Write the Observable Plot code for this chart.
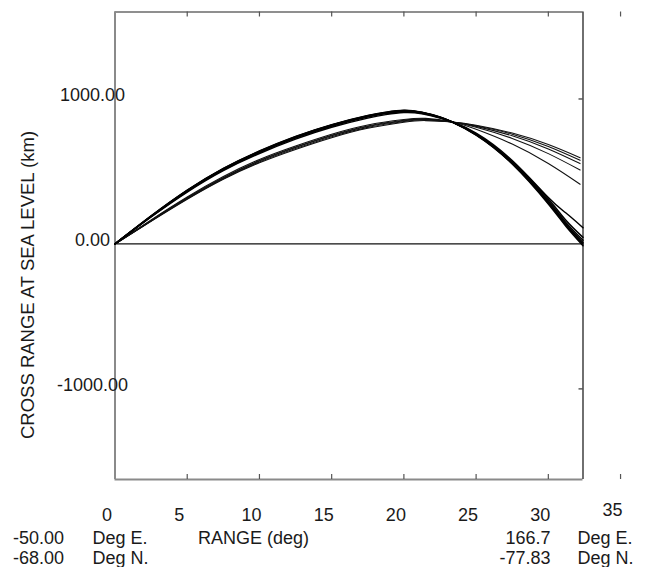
<!DOCTYPE html>
<html>
<head>
<meta charset="utf-8">
<script src="https://cdn.jsdelivr.net/npm/d3@7"></script>
<script src="https://cdn.jsdelivr.net/npm/@observablehq/plot@0.6"></script>
<style>
  html, body { margin: 0; padding: 0; background: #fff; }
</style>
</head>
<body>
<div id="chart"></div>
<script>
// ---- data ----
const rangeEnd = 32.4;          // deg, end of range (right frame)
const crossMax = 1600;          // km, top of frame
const crossMin = -1625;         // km, bottom of frame

const xTickLabels = [0, 5, 10, 15, 20, 25, 30];
const xTickLabelOuter = [35];
const xTickMarks = [5, 10, 15, 20, 25, 30, 35];
const yTickLabels = [1000, 0, -1000];
const yRightTicks = [1000, -1000];

// Group A: trajectories ending near zero cross range
const rangeA = [0, 2.5, 5, 7.5, 10, 12.5, 15, 17.5, 18.75, 20, 21.25, 22.5, 23.35, 25, 27.5, 30, 31.2, 32.4];
const crossA = [
  [0, 186, 358, 506, 624, 723, 805, 868, 892, 906, 898, 869, 841, 764, 575, 320, 215, 112],
  [0, 188, 362, 511, 630, 730, 812, 875, 899, 912, 902, 871, 841, 760, 567, 310, 165, 45],
  [0, 190, 365, 515, 635, 735, 817, 880, 903, 916, 905, 873, 841, 757, 562, 298, 150, 25],
  [0, 191, 367, 517, 637, 737, 819, 882, 905, 918, 906, 874, 841, 755, 558, 290, 140, 10],
  [0, 192, 369, 519, 639, 739, 821, 884, 907, 920, 907, 875, 841, 753, 555, 283, 132, 0],
  [0, 193, 371, 521, 641, 741, 823, 886, 909, 922, 908, 876, 841, 751, 552, 276, 124, -12]
];

// Group B: flatter trajectories ending at 400-600 km
const rangeB = [0, 2.5, 5, 7.5, 10, 12.5, 15, 17.5, 20, 21.5, 23.35, 25, 27.5, 30, 32.2];
const crossB = [
  [0, 156, 308, 446, 560, 652, 733, 798, 840, 851, 841, 819, 765, 686, 595],
  [0, 158, 311, 450, 566, 658, 740, 804, 845, 855, 841, 815, 757, 672, 577],
  [0, 160, 315, 455, 572, 665, 746, 810, 850, 859, 841, 811, 746, 655, 554],
  [0, 162, 318, 458, 575, 668, 750, 814, 853, 862, 841, 805, 728, 623, 510],
  [0, 166, 324, 465, 583, 676, 757, 821, 858, 866, 841, 791, 689, 555, 412]
];

const yTitle = "CROSS RANGE AT SEA LEVEL (km)";
const xTitle = "RANGE (deg)";
const startLon = "-50.00", startLat = "-68.00";
const endLon = "166.7", endLat = "-77.83";
const unitE = "Deg E.", unitN = "Deg N.";

// ---- build tables ----
const tableA = crossA.flatMap((row, i) => row.map((v, j) => ({id: "A" + i, range: rangeA[j], cross: v})));
const tableB = crossB.flatMap((row, i) => row.map((v, j) => ({id: "B" + i, range: rangeB[j], cross: v})));

const W = 645, H = 567;
const mL = 114.5, mR = 62.5, mT = 11.5, mB = 88;
const innerW = W - mL - mR, innerH = H - mT - mB;

const chart = Plot.plot({
  width: W,
  height: H,
  marginLeft: mL,
  marginRight: mR,
  marginTop: mT,
  marginBottom: mB,
  x: {domain: [0, rangeEnd], axis: null},
  y: {domain: [crossMin, crossMax], axis: null},
  style: {fontFamily: "'Liberation Sans', Arial, Helvetica, sans-serif", fontSize: "18px", background: "#fff", color: "#1a1a1a"},
  marks: [
    // frame
    Plot.ruleY([crossMax], {stroke: "#6a6a6a", strokeWidth: 1.5}),
    Plot.ruleY([crossMin], {stroke: "#8a8a8a", strokeWidth: 2}),
    Plot.ruleX([0], {stroke: "#8a8a8a", strokeWidth: 2}),
    Plot.ruleX([rangeEnd], {stroke: "#222", strokeWidth: 1.3}),
    // ticks
    Plot.tickX(xTickMarks, {x: d => d, insetBottom: innerH - 5, stroke: "#555", strokeWidth: 1.2}),
    Plot.tickX(xTickMarks, {x: d => d, insetTop: innerH - 5, stroke: "#555", strokeWidth: 1.2}),
    Plot.tickY(yRightTicks, {y: d => d, insetLeft: innerW - 4, stroke: "#333", strokeWidth: 1.2}),
    // zero line
    Plot.ruleY([0], {stroke: "#111", strokeWidth: 1.2}),
    // curves
    Plot.line(tableB, {x: "range", y: "cross", z: "id", curve: "natural", stroke: "#111", strokeWidth: 1.1}),
    Plot.line(tableA, {x: "range", y: "cross", z: "id", curve: "natural", stroke: "#000", strokeWidth: 1.5}),
    // y tick labels
    Plot.text(yTickLabels, {x: 0, y: d => d, text: d => d.toFixed(2), dx: -22.5, dy: -4, textAnchor: "middle"}),
    // x tick labels
    Plot.text(xTickLabels, {x: d => d, y: crossMin, text: d => String(d), dx: -8, dy: 41, lineAnchor: "bottom", textAnchor: "middle"}),
    Plot.text(xTickLabelOuter, {x: d => d, y: crossMin, text: d => String(d), dx: -8, dy: 36, lineAnchor: "bottom", textAnchor: "middle"}),
    // bottom coordinate rows
    Plot.text([startLon], {x: 0, y: crossMin, text: d => d, dx: -76.5, dy: 64, lineAnchor: "bottom", textAnchor: "middle"}),
    Plot.text([startLat], {x: 0, y: crossMin, text: d => d, dx: -76.5, dy: 84, lineAnchor: "bottom", textAnchor: "middle"}),
    Plot.text([unitE], {x: 0, y: crossMin, text: d => d, dx: -22.5, dy: 64, lineAnchor: "bottom", textAnchor: "start"}),
    Plot.text([unitN], {x: 0, y: crossMin, text: d => d, dx: -22.5, dy: 84, lineAnchor: "bottom", textAnchor: "start"}),
    Plot.text([xTitle], {x: 0, y: crossMin, text: d => d, dx: 83, dy: 64, lineAnchor: "bottom", textAnchor: "start"}),
    Plot.text([endLon], {x: rangeEnd, y: crossMin, text: d => d, dx: -32.5, dy: 64, lineAnchor: "bottom", textAnchor: "end"}),
    Plot.text([endLat], {x: rangeEnd, y: crossMin, text: d => d, dx: -32.5, dy: 84, lineAnchor: "bottom", textAnchor: "end"}),
    Plot.text([unitE], {x: rangeEnd, y: crossMin, text: d => d, dx: -5.5, dy: 64, lineAnchor: "bottom", textAnchor: "start"}),
    Plot.text([unitN], {x: rangeEnd, y: crossMin, text: d => d, dx: -5.5, dy: 84, lineAnchor: "bottom", textAnchor: "start"}),
    // y title
    Plot.text([yTitle], {frameAnchor: "left", text: d => d, rotate: -90, dx: -81, dy: 39.25, lineAnchor: "bottom", textAnchor: "middle", fontSize: 18.5})
  ]
});
document.getElementById("chart").appendChild(chart);
</script>
</body>
</html>
